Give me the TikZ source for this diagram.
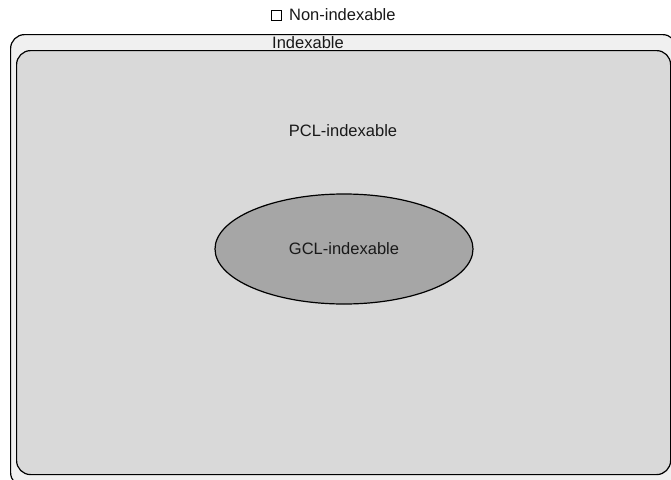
\documentclass[tikz,border=0pt]{standalone}
\usepackage{fontspec}
\setmainfont{Liberation Sans}
\usetikzlibrary{shapes.geometric}
\usetikzlibrary{positioning}

\begin{document}
\begin{tikzpicture}[x=1pt,y=-1pt,
            region/.style={draw,rounded corners=14pt,line width=1.2pt,inner sep=0pt},
            setlabel/.style={font=\fontsize{16.5}{18}\selectfont,text=black!90,inner sep=0pt}
            ]
\useasboundingbox (0,0) rectangle (671,479);
% outer set and the one nested in it
\node[region,fill=black!6,anchor=north west,minimum width=666pt,minimum height=452pt] (indexable) at (10,34) {};
\node[region,fill=black!15,anchor=north west,minimum width=654pt,minimum height=424pt] (pcl) at (16,50) {};
\node[ellipse,draw,line width=1.2pt,fill=black!35,minimum width=258pt,minimum height=110pt] (gcl) at (344,249) {};
% labels
\node[setlabel] (indexable-lbl) at (308,43) {Indexable};
\node[setlabel] (pcl-lbl) at (343,131) {PCL-indexable};
\node[setlabel] at (gcl) {GCL-indexable};
\node[draw,line width=0.9pt,minimum size=10pt,inner sep=0pt] (nonidx-box) at (276.5,15) {};
\node[setlabel,right=7pt of nonidx-box] (nonidx) {Non-indexable};
\end{tikzpicture}
\end{document}
